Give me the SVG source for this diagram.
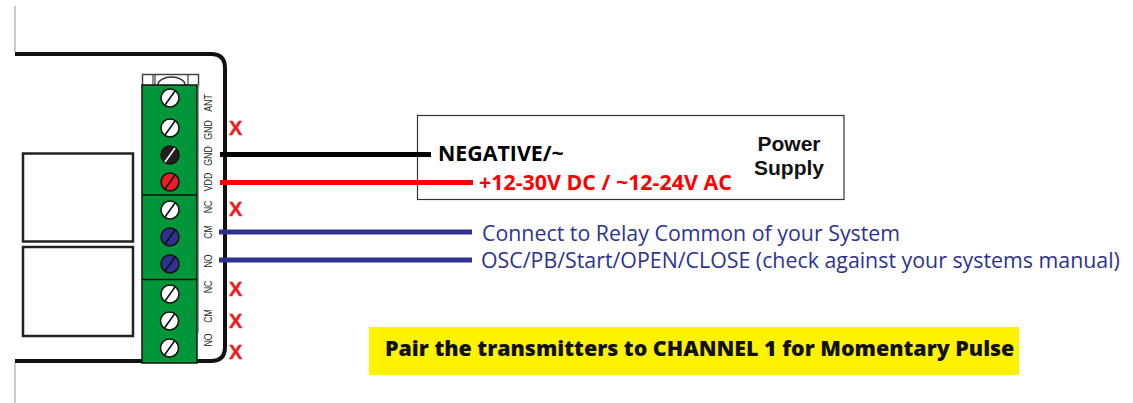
<svg xmlns="http://www.w3.org/2000/svg" width="1133" height="403" viewBox="0 0 1133 403">
<style>
.screw{stroke:#111;stroke-width:1.5}
.slot{stroke:#fff;stroke-width:1.6}
.slotd{stroke:#111;stroke-width:1.6}
.pin{font:11px "Liberation Sans",Arial,sans-serif;fill:#222;text-anchor:middle}
.x{font:bold 20px "Liberation Sans",Arial,sans-serif;fill:#ed1c24;stroke:#ed1c24;stroke-width:.4}
.blue{font:21.35px "Open Sans",sans-serif;fill:#2e3192}
.wire{fill:none;stroke-width:5}
.box{fill:#fff;stroke:#222;stroke-width:2.5}
</style>
<rect width="1133" height="403" fill="#fff"/>
<g id="enclosure">
<path d="M15 6V52M15 362V403" stroke="#aaa" stroke-width="1.200" fill="none"/>
<path d="M15 54H211Q225 54 225 68V347Q225 361 211 361H15" fill="none" stroke="#111" stroke-width="4"/>
</g>
<g id="display-top"><rect class="box" x="23" y="153.500" width="110" height="88"/></g>
<g id="display-bottom"><rect class="box" x="23" y="247" width="110" height="89"/></g>
<g id="terminal-block">
<rect x="142.500" y="74.500" width="56" height="12" fill="#fff" stroke="#444" stroke-width="1.500"/>
<path d="M153 75V85M155 75V85M188 75V85" stroke="#444" stroke-width="1.200"/>
<path d="M158 85a13.500 8 0 0 1 27 0" fill="none" stroke="#333" stroke-width="1.500"/>
<path d="M198.500 85V333" stroke="#999" stroke-width="1" fill="none"/>
<rect x="142" y="85" width="55" height="278" fill="#009639" stroke="#111" stroke-width="1.500"/>
<path d="M142 195H197M142 279.500H197" stroke="#111" stroke-width="1.500"/>
</g>
<g id="screws">
<g fill="#fff" class="screw">
<circle cx="170" cy="98" r="9"/><circle cx="170" cy="128" r="9"/><circle cx="170" cy="210" r="9"/>
<circle cx="170" cy="294" r="9"/><circle cx="169.500" cy="321" r="9"/><circle cx="169.500" cy="348" r="9"/>
</g>
<circle class="screw" cx="170" cy="155" r="9" fill="#231f20"/>
<circle class="screw" cx="170" cy="182" r="9" fill="#ed1c24"/>
<circle class="screw" cx="170" cy="237" r="9" fill="#2e3192"/>
<circle class="screw" cx="170" cy="264" r="9" fill="#2e3192"/>
<path class="slotd" d="M165 105L175 91M165 135L175 121M165 189L175 175M165 217L175 203M165 244L175 230M165 271L175 257M165 301L175 287M164.500 328L174.500 314M164.500 355L174.500 341"/>
<path class="slot" d="M165 162L175 148"/>
</g>
<g id="pin-labels">
<text class="pin" transform="translate(212 103) rotate(-90) scale(.8 1)">ANT</text>
<text class="pin" transform="translate(212 130) rotate(-90) scale(.8 1)">GND</text>
<text class="pin" transform="translate(212 156) rotate(-90) scale(.8 1)">GND</text>
<text class="pin" transform="translate(212 182) rotate(-90) scale(.8 1)">VDD</text>
<text class="pin" transform="translate(212 207) rotate(-90) scale(.8 1)">NC</text>
<text class="pin" transform="translate(212 232) rotate(-90) scale(.8 1)">CM</text>
<text class="pin" transform="translate(212 261) rotate(-90) scale(.8 1)">NO</text>
<text class="pin" transform="translate(212 287) rotate(-90) scale(.8 1)">NC</text>
<text class="pin" transform="translate(212 316) rotate(-90) scale(.8 1)">CM</text>
<text class="pin" transform="translate(212 340) rotate(-90) scale(.8 1)">NO</text>
</g>
<g id="power-supply">
<rect x="417.500" y="115.500" width="426.500" height="84" fill="#fff" stroke="#333" stroke-width="1.200"/>
<text x="789" y="151" font-family="'Liberation Sans',Arial,sans-serif" font-weight="bold" font-size="21" fill="#111" text-anchor="middle">Power</text>
<text x="789" y="175" font-family="'Liberation Sans',Arial,sans-serif" font-weight="bold" font-size="21" fill="#111" text-anchor="middle">Supply</text>
</g>
<g id="connectors">
<path class="wire" stroke="#000" d="M220 154.500H431"/>
<path class="wire" stroke="#f00" d="M220 182.500H473"/>
<path class="wire" stroke="#2e3192" d="M219 232H472M219 260H472"/>
</g>
<g id="labels">
<text x="438" y="161" font-family="'Open Sans',sans-serif" font-weight="700" font-size="21.350" fill="#000">NEGATIVE/~</text>
<text x="479" y="190" font-family="'Open Sans',sans-serif" font-weight="700" font-size="21.400" fill="#f00">+12-30V DC / ~12-24V AC</text>
<text class="blue" x="482" y="241">Connect to Relay Common of your System</text>
<text class="blue" x="481" y="268">OSC/PB/Start/OPEN/CLOSE (check against your systems manual)</text>
<text class="x" x="229" y="135">X</text>
<text class="x" x="229" y="216">X</text>
<text class="x" x="229" y="296">X</text>
<text class="x" x="229" y="328">X</text>
<text class="x" x="229" y="359">X</text>
</g>
<g id="note">
<rect x="369" y="327" width="650" height="48" fill="#fff200"/>
<text x="385" y="356" font-family="'Open Sans',sans-serif" font-weight="800" font-size="21.400" fill="#111">Pair the transmitters to CHANNEL 1 for Momentary Pulse</text>
</g>
</svg>
